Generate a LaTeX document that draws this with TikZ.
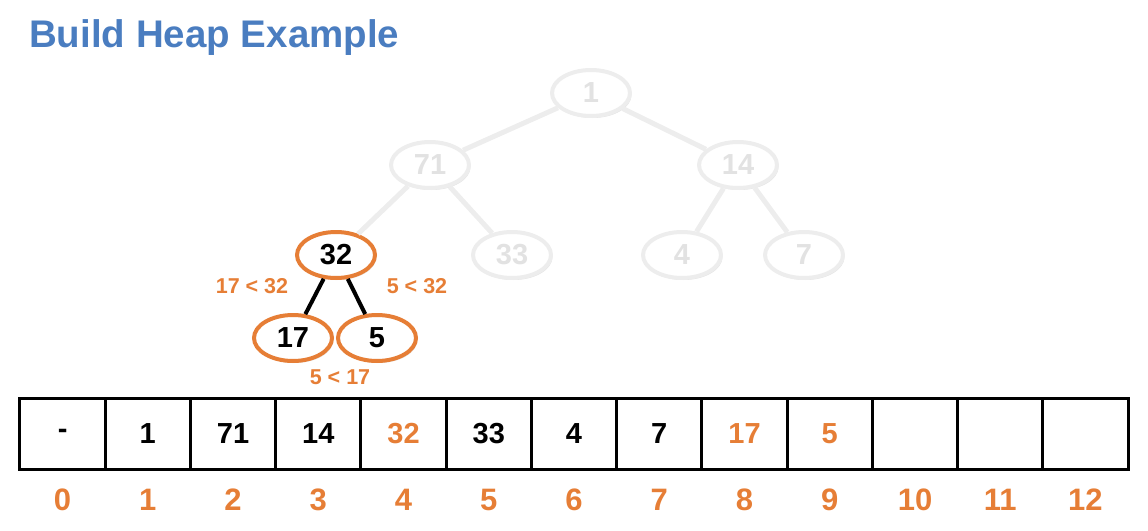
\documentclass[tikz,border=0pt]{standalone}
\usepackage{fontspec}
\setmainfont{Liberation Sans}
\usetikzlibrary{shapes.geometric,shadows}
\definecolor{hOrange}{HTML}{E67E36}
\definecolor{hBlue}{HTML}{4A7DC0}
\definecolor{hFade}{HTML}{EDEDED}
\tikzset{
  fadenode/.style={ellipse, draw=hFade, line width=4pt, fill=white, minimum width=78pt, minimum height=46pt, inner sep=0pt, text=hFade!90!gray, font=\bfseries\fontsize{29}{29}\selectfont, drop shadow={shadow xshift=1.5pt, shadow yshift=-2pt, fill=black!30, opacity=0.35}},
  hotnode/.style={ellipse, draw=hOrange, line width=4pt, fill=white, minimum width=78pt, minimum height=46pt, inner sep=0pt, text=black, font=\bfseries\fontsize{29}{29}\selectfont, drop shadow={shadow xshift=1.5pt, shadow yshift=-2pt, fill=black!30, opacity=0.35}},
  fadeedge/.style={draw=hFade, line width=5pt},
  hotedge/.style={draw=black, line width=4pt},
  cell/.style={draw, line width=3pt, minimum width=85.23pt, minimum height=71pt, inner sep=0pt, font=\bfseries\fontsize{29}{29}\selectfont},
  idx/.style={text=hOrange, font=\bfseries\fontsize{31}{31}\selectfont, inner sep=0pt},
  cmp/.style={text=hOrange, font=\bfseries\fontsize{21.5}{21.5}\selectfont, inner sep=0pt},
}
\begin{document}
\begin{tikzpicture}[x=1pt,y=-1pt]
\useasboundingbox (0,0) rectangle (1148,530);
\node[anchor=west, text=hBlue, font=\bfseries\fontsize{38.5}{38.5}\selectfont, inner sep=0pt] (title) at (29,38) {Build Heap Example};
% faded tree
\node[fadenode] (n1) at (591,93) {1};
\node[fadenode] (n71) at (430,165) {71};
\node[fadenode] (n14) at (738,165) {14};
\node[fadenode] (n33) at (512,255) {33};
\node[fadenode] (n4) at (682,255) {4};
\node[fadenode] (n7) at (804,255) {7};
\node[hotnode] (n32) at (336,255) {32};
\node[hotnode] (n17) at (293,338) {17};
\node[hotnode] (n5) at (377,338) {5};
\draw[fadeedge] (n1) -- (n71);
\draw[fadeedge] (n1) -- (n14);
\draw[fadeedge] (n71) -- (n32);
\draw[fadeedge] (n71) -- (n33);
\draw[fadeedge] (n14) -- (n4);
\draw[fadeedge] (n14) -- (n7);
\draw[hotedge] (n32) -- (n17);
\draw[hotedge] (n32) -- (n5);
\node[cmp] (l1) at (252,286) {17 < 32};
\node[cmp] (l2) at (417,286) {5 < 32};
\node[cmp] (l3) at (340,377) {5 < 17};
% array
\node[cell] (c0) at (62.6,434) {-};
\node[cell] (c1) at (147.8,434) {1};
\node[cell] (c2) at (233.1,434) {71};
\node[cell] (c3) at (318.3,434) {14};
\node[cell, text=hOrange] (c4) at (403.5,434) {32};
\node[cell] (c5) at (488.8,434) {33};
\node[cell] (c6) at (574.0,434) {4};
\node[cell] (c7) at (659.2,434) {7};
\node[cell, text=hOrange] (c8) at (744.5,434) {17};
\node[cell, text=hOrange] (c9) at (829.7,434) {5};
\node[cell] (c10) at (915.0,434) {};
\node[cell] (c11) at (1000.2,434) {};
\node[cell] (c12) at (1085.4,434) {};
\foreach \i in {0,...,12} {
  \node[idx] (i\i) at ([yshift=-66pt]c\i.center) {\i};
}
\end{tikzpicture}
\end{document}
